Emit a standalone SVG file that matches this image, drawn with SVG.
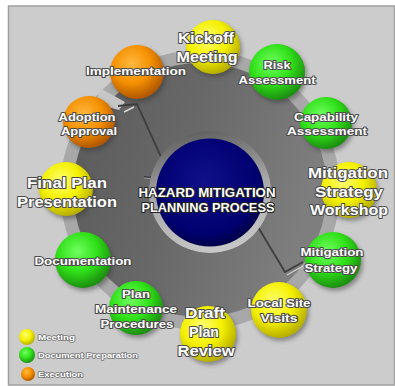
<svg xmlns="http://www.w3.org/2000/svg" width="395" height="386" viewBox="0 0 395 386">
<defs>
<radialGradient id="gy" cx="40%" cy="35%" r="65%"><stop offset="0" stop-color="#ffff70"/><stop offset="0.55" stop-color="#f4f000"/><stop offset="1" stop-color="#b8b000"/></radialGradient>
<radialGradient id="gg" cx="40%" cy="35%" r="65%"><stop offset="0" stop-color="#70ff60"/><stop offset="0.55" stop-color="#30e018"/><stop offset="1" stop-color="#1c9010"/></radialGradient>
<radialGradient id="go" cx="40%" cy="35%" r="65%"><stop offset="0" stop-color="#ffb840"/><stop offset="0.55" stop-color="#f59000"/><stop offset="1" stop-color="#b05800"/></radialGradient>
<radialGradient id="gn" cx="45%" cy="40%" r="60%"><stop offset="0" stop-color="#10108a"/><stop offset="0.8" stop-color="#000070"/><stop offset="1" stop-color="#00004a"/></radialGradient>
<linearGradient id="gring" x1="0" y1="0" x2="1" y2="0.3"><stop offset="0" stop-color="#5a5a5a"/><stop offset="0.5" stop-color="#686868"/><stop offset="1" stop-color="#7e7e7e"/></linearGradient>
<linearGradient id="ginner" x1="0.3" y1="0" x2="0.5" y2="1"><stop offset="0" stop-color="#5e5e5e"/><stop offset="0.5" stop-color="#a8a8a8"/><stop offset="1" stop-color="#c8c8c8"/></linearGradient>
<filter id="sh" x="-30%" y="-30%" width="160%" height="160%"><feGaussianBlur stdDeviation="2"/></filter>
<style>
.sh{fill:#333;opacity:.45;filter:url(#sh)}
.y{fill:url(#gy)}.g{fill:url(#gg)}.o{fill:url(#go)}
text{font-family:"Liberation Sans",Arial,sans-serif;font-weight:bold;fill:#fff;stroke:#4a4a4a;stroke-width:2;paint-order:stroke;stroke-linejoin:round;text-anchor:middle}
.s{font-size:11.5px}.b{font-size:15.5px}.c{font-size:12.5px;stroke:#222}
.l{font-size:7.5px;text-anchor:start;stroke-width:1.5;stroke:#777}
</style>
</defs>
<rect x="0" y="0" width="395" height="386" fill="#fff"/>
<rect x="8.5" y="6" width="386" height="379" fill="#cccccc" stroke="#a0a0a0" stroke-width="1.5"/>
<g id="ring">
<circle cx="200" cy="190" r="140" fill="#a8a8a8"/>
<circle cx="200" cy="190" r="127" fill="url(#gring)"/>
<polygon points="100,88 125,102 119,110 96,104" fill="#c6c6c6"/>
<path d="M118,106 L137,104 L171,179 L144,177" fill="none" stroke="#3e3e3e" stroke-width="1.8"/>
<path d="M124,112 L134,107" stroke="#d8d8d8" stroke-width="1.5"/>
<path d="M144,178 L170,180" stroke="#9a9a9a" stroke-width="1.2"/>
<path d="M252,217 L285,272 L303,262" fill="none" stroke="#3e3e3e" stroke-width="1.8"/>
<path d="M287,275 L303,266" stroke="#d0d0d0" stroke-width="1.2"/>
<circle cx="210" cy="192" r="61" fill="url(#ginner)"/>
<circle cx="210" cy="192.5" r="54" fill="url(#gn)"/>
</g>
<g id="title">
<text class="c" x="207" y="197" textLength="137" lengthAdjust="spacingAndGlyphs">HAZARD MITIGATION</text>
<text class="c" x="208" y="212" textLength="133" lengthAdjust="spacingAndGlyphs">PLANNING PROCESS</text>
</g>
<g id="connectors"></g>
<g id="kickoff"><circle class="sh" cx="215" cy="50" r="27"/><circle class="y" cx="213" cy="47" r="27"/>
<text class="b" x="206" y="43" textLength="56" lengthAdjust="spacingAndGlyphs">Kickoff</text>
<text class="b" x="207" y="62" textLength="61" lengthAdjust="spacingAndGlyphs">Meeting</text></g>
<g id="risk"><circle class="sh" cx="279" cy="75" r="28"/><circle class="g" cx="277" cy="72" r="28"/>
<text class="s" x="277" y="69" textLength="27" lengthAdjust="spacingAndGlyphs">Risk</text>
<text class="s" x="277" y="84" textLength="77" lengthAdjust="spacingAndGlyphs">Assessment</text></g>
<g id="capability"><circle class="sh" cx="328" cy="126" r="26"/><circle class="g" cx="326" cy="123" r="26"/>
<text class="s" x="326" y="121" textLength="64" lengthAdjust="spacingAndGlyphs">Capability</text>
<text class="s" x="327" y="135" textLength="80" lengthAdjust="spacingAndGlyphs">Assessment</text></g>
<g id="workshop"><circle class="sh" cx="351" cy="193" r="28"/><circle class="y" cx="349" cy="190" r="28"/>
<text class="b" x="348" y="178" textLength="80" lengthAdjust="spacingAndGlyphs">Mitigation</text>
<text class="b" x="349" y="197" textLength="68" lengthAdjust="spacingAndGlyphs">Strategy</text>
<text class="b" x="349" y="215" textLength="78" lengthAdjust="spacingAndGlyphs">Workshop</text></g>
<g id="mitigation-strategy"><circle class="sh" cx="335" cy="263" r="28"/><circle class="g" cx="333" cy="260" r="28"/>
<text class="s" x="332" y="256" textLength="63" lengthAdjust="spacingAndGlyphs">Mitigation</text>
<text class="s" x="331" y="272" textLength="53" lengthAdjust="spacingAndGlyphs">Strategy</text></g>
<g id="local-site"><circle class="sh" cx="281" cy="313" r="28"/><circle class="y" cx="279" cy="310" r="28"/>
<text class="s" x="279" y="307" textLength="63" lengthAdjust="spacingAndGlyphs">Local Site</text>
<text class="s" x="279" y="322" textLength="37" lengthAdjust="spacingAndGlyphs">Visits</text></g>
<g id="draft"><circle class="sh" cx="210" cy="337" r="28"/><circle class="y" cx="208" cy="334" r="28"/>
<text class="b" x="205" y="318" textLength="40" lengthAdjust="spacingAndGlyphs">Draft</text>
<text class="b" x="204" y="337" textLength="30" lengthAdjust="spacingAndGlyphs">Plan</text>
<text class="b" x="206" y="356" textLength="57" lengthAdjust="spacingAndGlyphs">Review</text></g>
<g id="plan-maintenance"><circle class="sh" cx="138" cy="311" r="27"/><circle class="g" cx="136" cy="308" r="27"/>
<text class="s" x="136" y="298" textLength="28" lengthAdjust="spacingAndGlyphs">Plan</text>
<text class="s" x="136" y="313" textLength="82" lengthAdjust="spacingAndGlyphs">Maintenance</text>
<text class="s" x="137" y="328" textLength="73" lengthAdjust="spacingAndGlyphs">Procedures</text></g>
<g id="documentation"><circle class="sh" cx="85" cy="263" r="28"/><circle class="g" cx="83" cy="260" r="28"/>
<text class="s" x="83" y="265" textLength="97" lengthAdjust="spacingAndGlyphs">Documentation</text></g>
<g id="final-plan"><circle class="sh" cx="68" cy="192" r="27"/><circle class="y" cx="66" cy="189" r="27"/>
<text class="b" x="67" y="188" textLength="80" lengthAdjust="spacingAndGlyphs">Final Plan</text>
<text class="b" x="67" y="207" textLength="100" lengthAdjust="spacingAndGlyphs">Presentation</text></g>
<g id="adoption"><circle class="sh" cx="91" cy="125" r="26"/><circle class="o" cx="89" cy="122" r="26"/>
<text class="s" x="87" y="121" textLength="57" lengthAdjust="spacingAndGlyphs">Adoption</text>
<text class="s" x="89" y="135" textLength="56" lengthAdjust="spacingAndGlyphs">Approval</text></g>
<g id="implementation"><circle class="sh" cx="139" cy="75" r="27"/><circle class="o" cx="137" cy="72" r="27"/>
<text class="s" x="136" y="75" textLength="100" lengthAdjust="spacingAndGlyphs">Implementation</text></g>
<g id="legend">
<circle class="y" cx="27" cy="337" r="8"/><circle class="g" cx="27" cy="355" r="8"/><circle class="o" cx="28" cy="374" r="7"/>
<text class="l" x="38" y="340" textLength="37" lengthAdjust="spacingAndGlyphs">Meeting</text>
<text class="l" x="38" y="358" textLength="100" lengthAdjust="spacingAndGlyphs">Document Preparation</text>
<text class="l" x="38" y="377" textLength="45" lengthAdjust="spacingAndGlyphs">Execution</text>
</g>
</svg>
